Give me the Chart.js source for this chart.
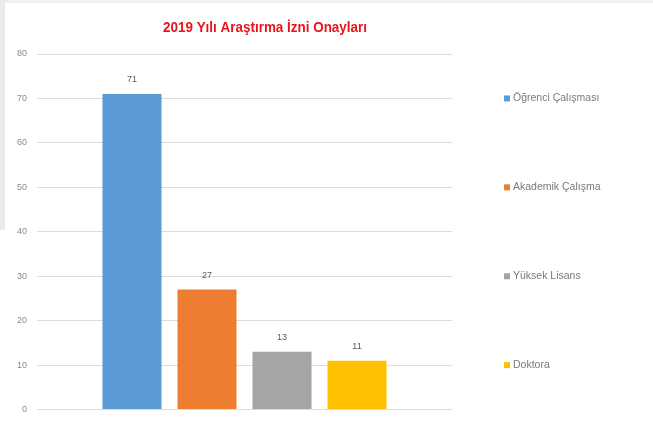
<!DOCTYPE html>
<html>
<head>
<meta charset="utf-8">
<script src="https://cdn.jsdelivr.net/npm/chart.js@4"></script>
<style>
html,body{margin:0;padding:0;background:#fff;}
#wrap{position:relative;width:653px;height:425px;}
</style>
</head>
<body>
<div id="wrap"><canvas id="c" width="653" height="425"></canvas></div>
<script>
const titleText = "2019 Yılı Araştırma İzni Onayları";
const categories = [""];
const seriesNames = ["Öğrenci Çalışması", "Akademik Çalışma", "Yüksek Lisans", "Doktora"];
const seriesValues = [71, 27, 13, 11];
const seriesColors = ["#5B9BD5", "#ED7D31", "#A5A5A5", "#FFC000"];
const yTicks = [0, 10, 20, 30, 40, 50, 60, 70, 80];

const datasets = seriesNames.map((n, i) => ({
  label: n,
  data: [seriesValues[i]],
  backgroundColor: seriesColors[i],
  borderWidth: 0,
  categoryPercentage: 0.723,
  barPercentage: 0.787
}));

const decor = {
  id: 'decor',
  beforeDraw(chart) {
    const ctx = chart.ctx;
    ctx.save();
    ctx.fillStyle = '#ffffff';
    ctx.fillRect(0, 0, chart.width, chart.height);
    ctx.fillStyle = '#f0f0f0';
    ctx.fillRect(0, 0, chart.width, 3);
    ctx.fillStyle = '#ebebeb';
    ctx.fillRect(0, 0, 5, 230);
    ctx.restore();
  },
  afterDatasetsDraw(chart) {
    const ctx = chart.ctx;
    const ca = chart.chartArea;
    ctx.save();
    // data labels
    ctx.font = '9px "Liberation Sans", Arial, sans-serif';
    ctx.fillStyle = '#595959';
    ctx.textAlign = 'center';
    ctx.textBaseline = 'bottom';
    chart.data.datasets.forEach((ds, i) => {
      const el = chart.getDatasetMeta(i).data[0];
      ctx.fillText(String(ds.data[0]), el.x, el.y - 10);
    });
    // title
    ctx.font = 'bold 15px "Liberation Sans", Arial, sans-serif';
    ctx.fillStyle = '#E8141B';
    ctx.textBaseline = 'middle';
    const w = ctx.measureText(titleText).width;
    const target = 204;
    ctx.translate(265, 28);
    ctx.scale(target / w, 1);
    ctx.fillText(titleText, 0, 0);
    ctx.restore();
    // legend
    ctx.save();
    const n = chart.data.datasets.length;
    const slot = (ca.bottom - ca.top) / n;
    ctx.font = '10.5px "Liberation Sans", Arial, sans-serif';
    ctx.textAlign = 'left';
    ctx.textBaseline = 'middle';
    chart.data.datasets.forEach((ds, i) => {
      const y = ca.top + slot * (i + 0.5);
      const x = ca.right + 52;
      ctx.fillStyle = ds.backgroundColor;
      ctx.fillRect(x, y - 3, 6, 6);
      ctx.fillStyle = '#7a7a7a';
      ctx.fillText(ds.label, x + 9, y);
    });
    ctx.restore();
  }
};

new Chart(document.getElementById('c'), {
  type: 'bar',
  data: { labels: categories, datasets },
  options: {
    responsive: false,
    animation: false,
    layout: { padding: { top: 54, right: 201, bottom: 15, left: 0 } },
    plugins: { legend: { display: false }, title: { display: false }, tooltip: { enabled: false } },
    scales: {
      x: { display: false },
      y: {
        min: 0, max: 80,
        afterFit(s) { s.width = 37; },
        afterBuildTicks(s) { s.ticks = yTicks.map(v => ({ value: v })); },
        border: { display: false },
        grid: { color: '#dcdcdc', drawTicks: false, lineWidth: 1 },
        ticks: { padding: 10, color: '#8a8a8a', font: { size: 9, family: '"Liberation Sans", Arial, sans-serif' } }
      }
    }
  },
  plugins: [decor]
});
</script>
</body>
</html>
